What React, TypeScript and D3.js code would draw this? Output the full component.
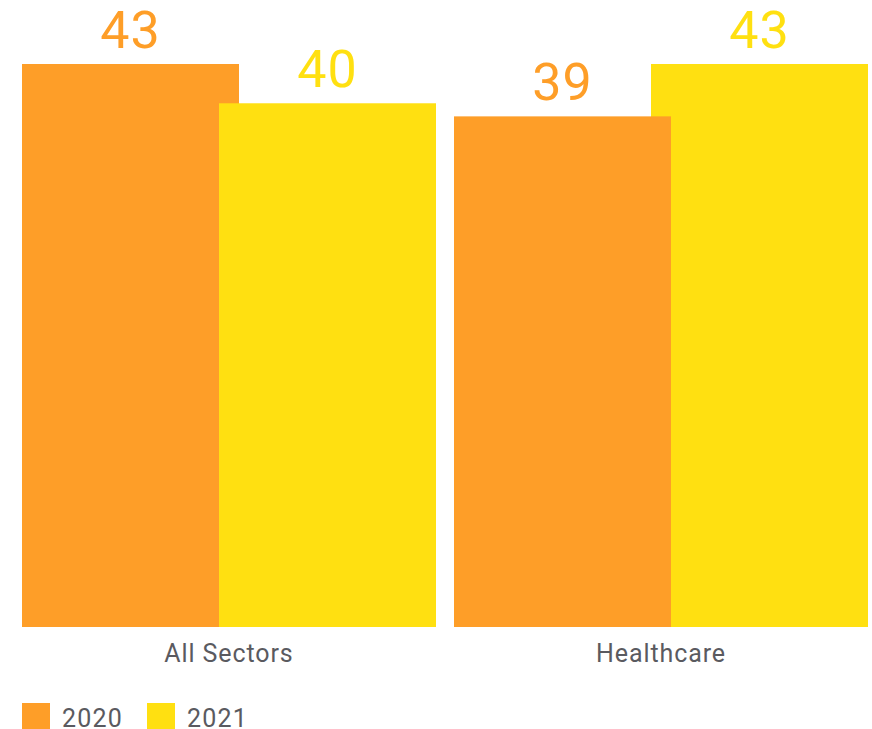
import React from "react";
import * as d3 from "d3";

const categories = ["All Sectors", "Healthcare"];
const seriesNames = ["2020", "2021"];
const values2020 = [43, 39];
const values2021 = [40, 43];
const colors = ["#FE9E28", "#FFE011"];

const W = 872;
const H = 729;

export default function App() {
  const baseline = 627;
  const topY = 64;
  const y = d3.scaleLinear().domain([0, 43]).range([baseline, topY]);
  const x0 = d3.scaleBand<string>().domain(categories).range([22, 868]).paddingInner(18 / 432).paddingOuter(0);
  const overlap = 20;
  const x1 = d3.scaleBand<string>().domain(seriesNames).range([0, x0.bandwidth() - overlap]).padding(0);
  const barW = x1.bandwidth() + overlap;
  const series = [values2020, values2021];

  const groups = categories.map((c, ci) => {
    const bars = seriesNames.map((s, si) => ({ s, si, v: series[si][ci] }));
    // taller bar drawn first, shorter on top
    bars.sort((a, b) => b.v - a.v);
    return { c, ci, bars };
  });

  const font = "Roboto, 'Noto Sans', sans-serif";

  return (
    <svg width={W} height={H} style={{ position: "absolute", left: 0, top: 0, display: "block" }}>
      <rect width={W} height={H} fill="#ffffff" />
      {groups.map((g) => (
        <g key={g.c} transform={`translate(${x0(g.c)},0)`}>
          {g.bars.map((b) => (
            <rect
              key={b.s}
              x={x1(b.s)!}
              y={y(b.v)}
              width={barW}
              height={baseline - y(b.v)}
              fill={colors[b.si]}
            />
          ))}
          {g.bars.map((b) => (
            <text
              key={"t" + b.s}
              x={x1(b.s)! + barW / 2}
              y={y(b.v) - 16}
              textAnchor="middle"
              fontFamily={font}
              fontSize={52}
              letterSpacing={1}
              fill={colors[b.si]}
            >
              {b.v}
            </text>
          ))}
          <text
            x={x0.bandwidth() / 2}
            y={662}
            textAnchor="middle"
            fontFamily={font}
            fontSize={25}
            letterSpacing={0.9}
            fill="#5a5a60"
          >
            {g.c}
          </text>
        </g>
      ))}
      {seriesNames.map((s, i) => (
        <g key={s} transform={`translate(${22 + i * 125},703)`}>
          <rect width={28} height={28} fill={colors[i]} />
          <text x={40} y={24} fontFamily={font} fontSize={25} letterSpacing={1.2} fill="#5a5a60">
            {s}
          </text>
        </g>
      ))}
    </svg>
  );
}
